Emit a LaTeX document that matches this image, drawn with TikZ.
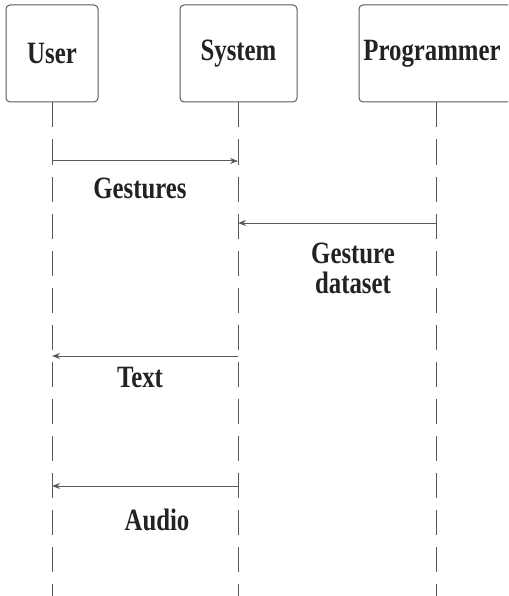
\documentclass[tikz,border=0pt]{standalone}
\usepackage{fontspec}
\setmainfont{Liberation Serif}[FakeStretch=0.8]
\usetikzlibrary{arrows.meta}
\definecolor{ink}{HTML}{222222}
\definecolor{edge}{HTML}{5A5A5A}
\tikzset{
  actor/.style={draw=edge, line width=1pt, rounded corners=4pt, minimum height=97pt,
    text=ink, font=\fontsize{31}{33}\selectfont\bfseries, inner sep=0pt},
  lifeline/.style={draw=edge, line width=1pt, dash pattern=on 25pt off 12pt},
  msg/.style={draw=edge, line width=1pt, -{Stealth[length=8pt,width=6pt]}},
  msglabel/.style={text=ink, font=\fontsize{31}{33}\selectfont\bfseries, align=center, inner sep=0pt}
}
\begin{document}
\begin{tikzpicture}[x=1pt,y=-1pt]
  \useasboundingbox (0,0) rectangle (508,596);
  \clip (0,0) rectangle (508,596);
  % participants
  \node[actor, minimum width=92pt]  (user) at (52,53.5)  {User};
  \node[actor, minimum width=117pt] (sys)  at (238.5,53.5) {System};
  \node[actor, minimum width=154pt] (prog) at (436,53.5) {\hspace*{-8pt}Programmer};
  % lifeline ends
  \coordinate (userEnd) at (52,596);
  \coordinate (sysEnd)  at (238,596);
  \coordinate (progEnd) at (436,596);
  \draw[lifeline] (user.south) -- (userEnd);
  \draw[lifeline] (sys.south -| sysEnd) -- (sysEnd);
  \draw[lifeline] (prog.south -| progEnd) -- (progEnd);
  % message anchor points on the lifelines
  \coordinate (u1) at (52,161);  \coordinate (s1) at (238,161);
  \coordinate (s2) at (238,223); \coordinate (p2) at (436,223);
  \coordinate (s3) at (238,356); \coordinate (u3) at (52,356);
  \coordinate (s4) at (238,486); \coordinate (u4) at (52,486);
  % messages
  \draw[msg] (u1) -- (s1);
  \draw[msg] (p2) -- (s2);
  \draw[msg] (s3) -- (u3);
  \draw[msg] (s4) -- (u4);
  % labels
  \node[msglabel] (l1) at (140,188) {Gestures};
  \node[msglabel] (l2) at (353,268) {Gesture\\[-3pt]dataset};
  \node[msglabel] (l3) at (140,377) {Text};
  \node[msglabel] (l4) at (157,520) {Audio};
\end{tikzpicture}
\end{document}
